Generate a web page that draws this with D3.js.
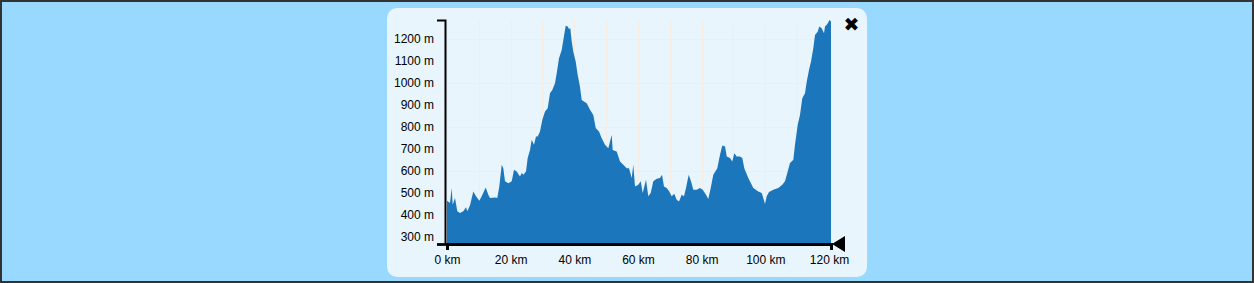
<!DOCTYPE html>
<html lang="en">
<head>
    <meta charset="UTF-8">
    <title>Elevation profile</title>
    <style>
        body { margin: 0; background: #99d9ff; }
        svg { display: block; }
        .axis text { font-family: "Liberation Sans", Arial, sans-serif; font-size: 12px; fill: #000; }
        .grid line { stroke: #f3ede6; stroke-width: 1; }
    </style>
</head>
<body>
<svg width="1254" height="283"></svg>
<script src="https://d3js.org/d3.v7.min.js"></script>
<script>
    // distance along the track (km) and elevation (m)
    var distKm = [0, 0.94, 1.48, 1.79, 2.51, 3.24, 4.08, 5.12, 5.97, 6.38, 7.23, 8.26, 9.11, 10.15, 10.90,
        12.16, 12.98, 13.51, 15.08, 15.80, 16.43, 17.19, 17.69, 18.22, 19.26, 20.33, 21.05, 21.90, 22.93,
        23.47, 23.97, 24.82, 25.35, 26.08, 26.61, 27.33, 27.96, 28.50, 29.22, 29.94, 30.79, 31.64, 32.36,
        33.08, 33.93, 34.47, 35.19, 36.04, 36.54, 37.29, 37.92, 38.33, 38.74, 39.18, 39.68, 40.43, 41.06,
        41.78, 42.32, 43.14, 43.89, 44.93, 45.96, 46.72, 47.75, 48.60, 49.64, 50.68, 51.74, 52.06, 53.31,
        54.35, 55.39, 56.46, 57.18, 58.03, 58.53, 59.06, 60.10, 60.86, 61.48, 61.89, 62.52, 63.24, 64.00,
        64.81, 65.88, 66.92, 67.55, 68.17, 69.02, 69.84, 70.59, 71.41, 72.16, 72.89, 73.74, 74.46, 75.09,
        75.94, 76.66, 77.38, 78.45, 79.48, 80.33, 81.37, 82.09, 82.85, 83.66, 84.92, 85.77, 86.49, 87.35,
        87.88, 88.91, 89.63, 90.26, 91.01, 92.05, 92.77, 93.40, 94.66, 96.23, 97.80, 98.87, 99.37, 99.91,
        100.44, 101.16, 102.51, 104.08, 105.34, 106.19, 107.04, 107.76, 108.80, 109.33, 110.18, 110.90,
        111.62, 112.47, 113.01, 113.73, 114.36, 115.08, 115.61, 116.46, 116.96, 117.72, 118.44, 118.75,
        119.29, 119.82, 120.14, 120.64];
    var elevM = [465, 455, 523, 447, 477, 417, 409, 417, 435, 417, 444, 507, 485, 465, 485,
        525, 492, 477, 480, 477, 530, 628, 613, 553, 545, 553, 606, 598, 575,
        591, 583, 598, 659, 696, 742, 719, 757, 757, 779, 832, 870, 885, 953,
        968, 999, 1044, 1112, 1150, 1195, 1260, 1256, 1245, 1248, 1188, 1142, 1097, 1036,
        983, 923, 915, 908, 878, 855, 795, 779, 749, 719, 704, 764, 696, 689,
        643, 628, 613, 613, 568, 628, 530, 538, 553, 500, 523, 560, 485, 500,
        553, 565, 568, 583, 530, 523, 507, 485, 497, 470, 462, 492, 485, 523,
        583, 553, 515, 515, 523, 515, 492, 473, 523, 583, 613, 674, 716, 711,
        666, 659, 643, 681, 666, 666, 659, 613, 568, 523, 507, 500, 477, 450,
        485, 505, 515, 523, 538, 553, 598, 636, 651, 719, 810, 855,
        931, 953, 1006, 1059, 1097, 1158, 1218, 1233, 1256, 1248, 1226, 1256,
        1264, 1276, 1286, 1279];

    var elevDomain = [268.5, 1286];
    var xTicks = [0, 20, 40, 60, 80, 100, 120];
    var yTicks = [300, 400, 500, 600, 700, 800, 900, 1000, 1100, 1200];
    var xGrid = d3.range(0, 121, 10);
    var yGrid = [400, 600, 800, 1000, 1200];

    var data = distKm.map(function(d, i){ return {dist: d, elev: elevM[i]}; });

    var svg = d3.select("svg");

    // page border and rounded panel
    svg.append("rect").attr("x", 1).attr("y", 1).attr("width", 1252).attr("height", 281)
        .attr("fill", "#99d9ff").attr("stroke", "#333").attr("stroke-width", 2);
    svg.append("rect").attr("x", 387).attr("y", 8).attr("width", 480).attr("height", 269)
        .attr("rx", 10).attr("fill", "#e8f5fc");

    var x = d3.scaleLinear()
        .domain([0, d3.max(distKm)])
        .range([447, 831]);
    var y = d3.scaleLinear()
        .domain(elevDomain)
        .range([244, 20]);

    var grid = svg.append("g").attr("class", "grid");
    grid.selectAll(".gx").data(xGrid).enter().append("line")
        .attr("x1", function(d){ return Math.round(x(d)) + 0.5; })
        .attr("x2", function(d){ return Math.round(x(d)) + 0.5; })
        .attr("y1", 20).attr("y2", 244);
    grid.selectAll(".gy").data(yGrid).enter().append("line")
        .attr("x1", 445).attr("x2", 831)
        .attr("y1", function(d){ return Math.round(y(d)) + 0.5; })
        .attr("y2", function(d){ return Math.round(y(d)) + 0.5; });

    var area = d3.area()
        .x(function(d){ return x(d.dist); })
        .y0(y(elevDomain[0]))
        .y1(function(d){ return y(d.elev); });

    svg.append("path")
        .datum(data)
        .attr("fill", "#1c76bb")
        .attr("d", area);

    // y axis: only labels, line drawn with outer ticks
    var yAxis = svg.append("g")
        .attr("class", "axis")
        .attr("transform", "translate(445,0)")
        .call(d3.axisLeft(y).tickValues(yTicks).tickSizeInner(0).tickSizeOuter(8).tickPadding(11)
            .tickFormat(function(d){ return d + " m"; }));
    yAxis.select(".domain").attr("stroke", "#000").attr("stroke-width", 2);
    yAxis.selectAll(".tick line").remove();

    var xAxis = svg.append("g")
        .attr("class", "axis")
        .attr("transform", "translate(0,244)")
        .call(d3.axisBottom(x).tickValues(xTicks).tickSizeInner(0).tickSizeOuter(6).tickPadding(9)
            .tickFormat(function(d){ return d + " km"; }));
    xAxis.select(".domain").attr("stroke", "#000").attr("stroke-width", 3);
    xAxis.selectAll(".tick line").remove();
    xAxis.selectAll(".tick text").attr("dy", "0.95em");

    // bottom line joins the y axis outer tick
    svg.append("line").attr("x1", 437).attr("x2", x(d3.max(distKm)))
        .attr("y1", 244.5).attr("y2", 244.5).attr("stroke", "#000").attr("stroke-width", 2.5);

    // position marker at the end of the track
    var xe = x(d3.max(distKm));
    svg.append("path")
        .attr("d", "M" + (xe + 1) + ",244L" + (xe + 14) + ",236L" + (xe + 14) + ",252Z")
        .attr("fill", "#000");

    svg.append("text")
        .attr("x", 851.5).attr("y", 31)
        .attr("text-anchor", "middle")
        .attr("font-family", "DejaVu Sans")
        .attr("font-size", 19)
        .attr("fill", "#000")
        .text("✖");
</script>
</body>
</html>
